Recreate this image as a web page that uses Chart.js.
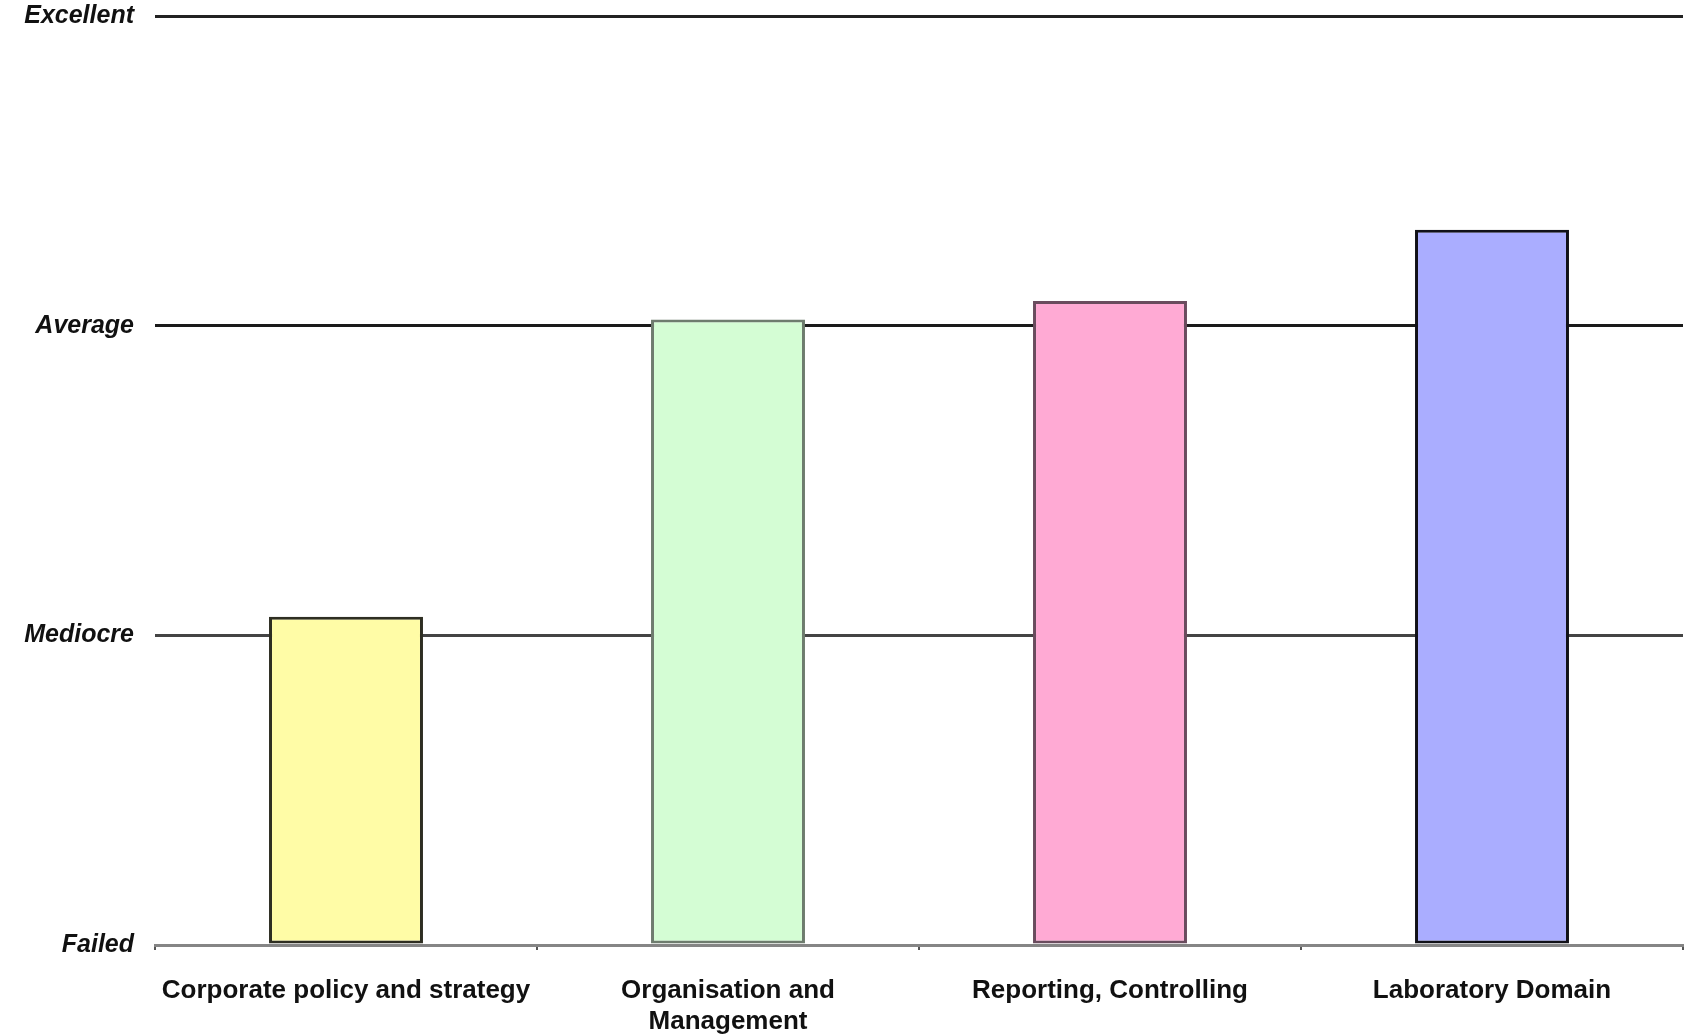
<!DOCTYPE html>
<html>
<head>
<meta charset="utf-8">
<script src="https://cdn.jsdelivr.net/npm/chart.js@4/dist/chart.umd.min.js"></script>
<style>
  html, body { margin: 0; padding: 0; background: #ffffff; }
  #wrap { width: 1691px; height: 1036px; }
</style>
</head>
<body>
<div id="wrap"><canvas id="chart" width="1691" height="1036"></canvas></div>
<script>
// Assessment areas and their scores (0 = Failed ... 3 = Excellent)
const categories = [
  'Corporate policy and strategy',
  ['Organisation and', 'Management'],
  'Reporting, Controlling',
  'Laboratory Domain'
];
const scores = [1.06, 2.02, 2.08, 2.31];
const ratingLabels = ['Failed', 'Mediocre', 'Average', 'Excellent'];

const fillColors = ['#FFFCA6', '#D4FDD4', '#FFAAD4', '#AAADFF'];
const edgeColors = ['#2e2e22', '#6e7c6e', '#6a4c5e', '#111118'];
const gridColors = ['rgba(0,0,0,0)', '#444444', '#1a1a1a', '#222222'];

new Chart(document.getElementById('chart'), {
  type: 'bar',
  data: {
    labels: categories,
    datasets: [{
      data: scores,
      backgroundColor: fillColors,
      borderColor: edgeColors,
      borderWidth: 3,
      borderSkipped: false,
      barPercentage: 0.403,
      categoryPercentage: 1.0
    }]
  },
  options: {
    responsive: false,
    animation: false,
    layout: { padding: { top: 16, right: 8, left: 0, bottom: 0 } },
    plugins: { legend: { display: false }, tooltip: { enabled: false } },
    scales: {
      x: {
        offset: true,
        afterFit(scale) { scale.height = 91; },
        border: { display: true, color: '#858585', width: 3 },
        grid: {
          offset: true,
          drawOnChartArea: false,
          drawTicks: true,
          tickLength: 5,
          color: '#555555',
          lineWidth: 2
        },
        ticks: {
          color: '#111111',
          padding: 25,
          maxRotation: 0,
          autoSkip: false,
          font: { family: 'Liberation Sans', weight: 'bold', size: 26, lineHeight: 1.2 }
        }
      },
      y: {
        min: 0,
        max: 3,
        afterFit(scale) {
          scale.width = 155;
          scale.paddingTop = 0;
          scale.paddingBottom = 0;
        },
        border: { display: false },
        grid: {
          drawTicks: false,
          lineWidth: 3,
          color: (ctx) => gridColors[ctx.tick ? Math.round(ctx.tick.value) : 0]
        },
        ticks: {
          stepSize: 1,
          padding: 21,
          color: '#111111',
          font: { family: 'Liberation Sans', weight: 'bold', style: 'italic', size: 25 },
          callback: (value) => ratingLabels[value]
        }
      }
    }
  }
});
</script>
</body>
</html>
